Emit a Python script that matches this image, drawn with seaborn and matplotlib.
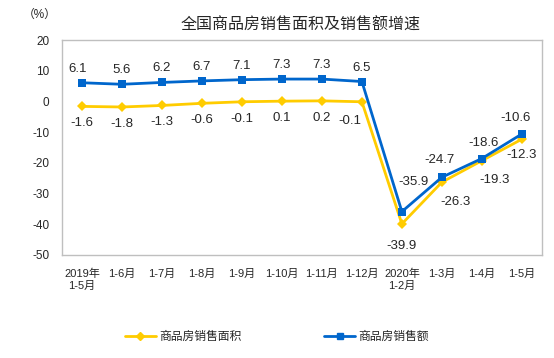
import pandas as pd
import matplotlib.pyplot as plt
import seaborn as sns

# data
months = ['2019年\n1-5月', '1-6月', '1-7月', '1-8月', '1-9月', '1-10月',
          '1-11月', '1-12月', '2020年\n1-2月', '1-3月', '1-4月', '1-5月']
area_growth = [-1.6, -1.8, -1.3, -0.6, -0.1, 0.1, 0.2, -0.1, -39.9, -26.3, -19.3, -12.3]
sales_growth = [6.1, 5.6, 6.2, 6.7, 7.1, 7.3, 7.3, 6.5, -35.9, -24.7, -18.6, -10.6]
area_name = '商品房销售面积'
sales_name = '商品房销售额'

sns.set_style('white')
plt.rcParams['font.family'] = ['Liberation Sans', 'Noto Sans CJK SC', 'DejaVu Sans']
plt.rcParams['axes.unicode_minus'] = False

df = pd.DataFrame({
    'x': list(range(len(months))) * 2,
    'value': area_growth + sales_growth,
    'series': [area_name] * len(months) + [sales_name] * len(months),
})

fig = plt.figure(figsize=(5.54, 3.58), dpi=100)
ax = fig.add_axes([0.112, 0.288, 0.866, 0.6])

palette = {area_name: '#FFCC00', sales_name: '#0066CC'}
markers = {area_name: 'D', sales_name: 's'}
sns.lineplot(data=df, x='x', y='value', hue='series', style='series',
             palette=palette, markers=markers, dashes=False, linewidth=2,
             markersize=6, markeredgewidth=0, ax=ax, legend=False)
for line in ax.lines:
    if line.get_marker() == 'D':
        line.set_markersize(5)

# value labels (offsets in pixels, converted to points)
px = 0.72
blue_off = {0: (-4, 14), 8: (12, 30), 9: (-2, 17), 10: (2, 16), 11: (-6, 16)}
yellow_off = {7: (-12, -19), 8: (0, -22), 9: (14, -20), 10: (13, -19), 11: (0, -16)}
for i, v in enumerate(sales_growth):
    dx, dy = blue_off.get(i, (0, 14))
    ax.annotate(f'{v:g}', (i, v), xytext=(dx * px, dy * px), textcoords='offset points',
                ha='center', va='center', fontsize=9.5)
for i, v in enumerate(area_growth):
    dx, dy = yellow_off.get(i, (0, -17))
    ax.annotate(f'{v:g}', (i, v), xytext=(dx * px, dy * px), textcoords='offset points',
                ha='center', va='center', fontsize=9.5)

ax.set_xlim(-0.5, len(months) - 0.5)
ax.set_ylim(-50, 20)
ax.set_yticks(range(-50, 21, 10))
ax.set_xticks(range(len(months)))
ax.set_xticklabels(months, fontsize=8, va='top')
ax.set_xticks([k - 0.5 for k in range(1, len(months))], minor=True)
ax.tick_params(axis='x', which='major', length=0, pad=10)
ax.tick_params(axis='x', which='minor', length=3, direction='in', color='#BFBFBF')
ax.tick_params(axis='y', length=3, direction='out', color='#BFBFBF', labelsize=8.5, pad=6)
ax.set_xlabel('')
ax.set_ylabel('')
for sp in ax.spines.values():
    sp.set_color('#BFBFBF')
    sp.set_linewidth(1)

fig.text(0.072, 0.958, '（%）', fontsize=8.5, ha='center', va='center')
fig.text(0.543, 0.93, '全国商品房销售面积及销售额增速', fontsize=11.5,
         ha='center', va='center')

# legend
handles = [plt.Line2D([], [], color=palette[area_name], marker='D', markersize=4, lw=2),
           plt.Line2D([], [], color=palette[sales_name], marker='s', markersize=5, lw=2)]
fig.legend(handles, [area_name, sales_name], loc='center', ncol=2,
           bbox_to_anchor=(0.5, 0.058), frameon=False, fontsize=8.5,
           columnspacing=7, handlelength=2.6, handletextpad=0.3)

fig.savefig('out.png', dpi=100)
